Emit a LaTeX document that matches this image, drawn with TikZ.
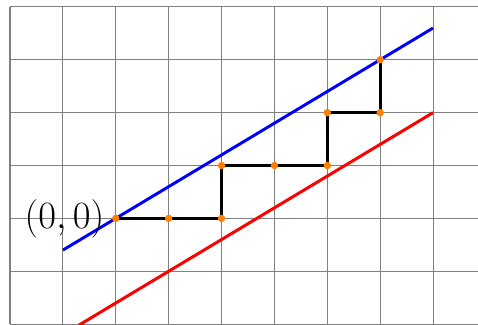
\documentclass[tikz,border=0pt]{standalone}
\begin{document}
\begin{tikzpicture}[x=1cm,y=1cm,
  gridline/.style={gray,line width=0.6pt},
  diag/.style={line width=1.6pt},
  pathline/.style={black,line width=1.6pt},
  dot/.style={circle,fill=orange,inner sep=0pt,minimum size=4pt}]
\useasboundingbox (-2.19,-2.01) rectangle (6.85,4.13);
\clip (-2.19,-2.01) rectangle (6.85,4.13);
\draw[gridline] (-2,-2) grid (6.85,4);
\draw[diag,blue] (-1,-0.6) -- (6,3.6);
\draw[diag,red] (-0.7,-2.02) -- (6,2);
\foreach \n/\x/\y in {0/0/0,1/1/0,2/2/0,3/2/1,4/3/1,5/4/1,6/4/2,7/5/2,8/5/3}
  \coordinate (c\n) at (\x,\y);
\draw[pathline,line join=miter] (c0) -- (c1) -- (c2) -- (c3) -- (c4) -- (c5) -- (c6) -- (c7) -- (c8);
\foreach \n in {0,...,8}
  \node[dot] (p\n) at (c\n) {};
\node[anchor=east,inner sep=6pt,font=\fontsize{22.5}{27}\selectfont] (lab) at (c0) {$(0,0)$};
\end{tikzpicture}
\end{document}
